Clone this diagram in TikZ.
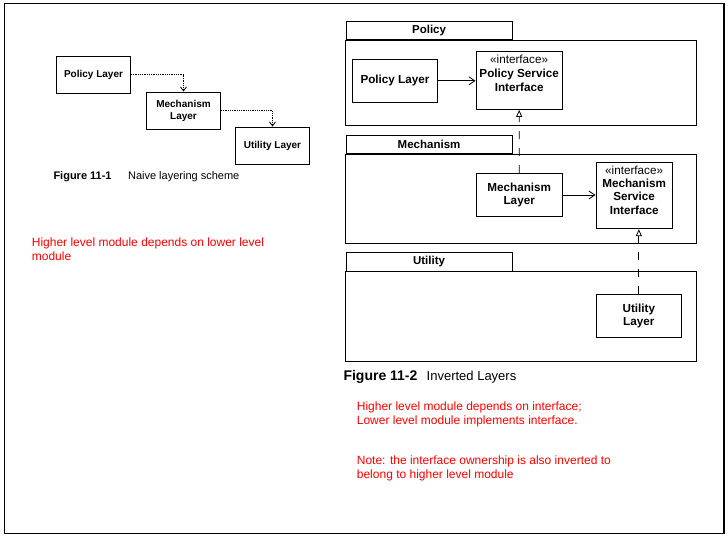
\documentclass[tikz,border=0pt]{standalone}
\usepackage{fontspec}
\setmainfont{Liberation Sans}
\usetikzlibrary{arrows.meta}
\tikzset{
    naivebox/.style={draw, line width=0.9pt, align=center, inner sep=0pt, minimum width=74pt, minimum height=37pt, font=\fontsize{10}{12}\selectfont\bfseries},
    layerbox/.style={draw, line width=0.9pt, align=center, inner sep=0pt, minimum width=85.5pt, minimum height=43pt, font=\fontsize{11.7}{13.3}\selectfont\bfseries},
    ifacebox/.style={draw, line width=0.9pt, align=center, anchor=north, inner xsep=0pt, inner ysep=3.5pt, font=\fontsize{11.7}{13.3}\selectfont},
    pkgtab/.style={draw, line width=0.9pt, anchor=south west, inner sep=0pt, minimum width=165.8pt, minimum height=18.6pt, font=\fontsize{11.5}{13}\selectfont\bfseries},
    pkgbody/.style={line width=0.9pt},
    depends/.style={line width=0.8pt, densely dotted, -{Straight Barb[length=4pt,width=6pt]}},
    uses/.style={line width=0.8pt, -{Straight Barb[length=6pt,width=8pt]}},
    realizes/.style={line width=0.8pt, dash pattern=on 8pt off 9pt, -{Triangle[open,length=7pt,width=6pt]}},
    note/.style={anchor=base west, align=left, text=red, inner sep=0pt, font=\fontsize{12}{13.6}\selectfont},
    caption/.style={anchor=base west, inner sep=0pt},
}
\newcommand{\tikzlayerpackage}[4]{%
    \draw[pkgbody] (345.7,#2) rectangle (696.3,#3);
    \node[pkgtab] (#1) at (345.7,#2) {#4};
}

\begin{document}
\begin{tikzpicture}[x=1pt, y=-1pt]
            \useasboundingbox (0,0) rectangle (728,538);
            \draw[line width=1.3pt] (4.5,3.5) rectangle (724,533.5);

            \node[naivebox] (pol1) at (93.5,74.5) {Policy Layer};
            \node[naivebox] (mech1) at (183.5,110.5) {Mechanism\\Layer};
            \node[naivebox] (util1) at (272.5,145.5) {Utility Layer};

            \draw[depends] (pol1.east) -| (mech1.north);
            \draw[depends] (mech1.east) -| (util1.north);

            \node[caption, font=\fontsize{11}{13}\selectfont] (cap1) at (53.3,179.3) {\textbf{Figure 11-1}\hspace{16.5pt}Naive layering scheme};
            \node[note] (note1) at (31.7,260.3) {Higher level module depends on lower level\\module};

            \tikzlayerpackage{poltab}{40}{125.3}{Policy}
            \tikzlayerpackage{mechtab}{154.3}{243.3}{Mechanism}
            \tikzlayerpackage{utiltab}{271.7}{361}{Utility}

            \node[layerbox] (pol2) at (395,80.8) {Policy Layer};
            \node[ifacebox, minimum width=86.3pt, text depth=14.7pt] (psi) at (519.15,50.7) {«interface»\\[1.5pt]\textbf{Policy Service}\\\textbf{Interface}};
            \node[layerbox] (mech2) at (519.2,195) {Mechanism\\Layer};
            \node[ifacebox, minimum width=76.3pt, text depth=11.2pt] (msi) at (634.15,161.7) {«interface»\\\textbf{Mechanism}\\\textbf{Service}\\\textbf{Interface}};
            \node[layerbox] (util2) at (638.85,316.2) {Utility\\Layer};

            \draw[uses] (pol2.east) -- (pol2.east -| psi.west);
            \draw[uses] (mech2.east) -- (mech2.east -| msi.west);
            \draw[realizes] (mech2.north) -- (psi.south);
            \draw[realizes] (util2.north) -- (util2.north |- msi.south);

            \node[caption] (cap2) at (343.3,380) {{\fontsize{14}{16}\selectfont\bfseries Figure 11-2}\hspace{9.3pt}{\fontsize{13}{15}\selectfont Inverted Layers}};
            \node[note] (note2) at (356.7,424.3) {Higher level module depends on interface;\\Lower level module implements interface.};
            \node[note] (note3) at (356.7,478.5) {Note: the interface ownership is also inverted to\\belong to higher level module};

        \end{tikzpicture}
\end{document}
